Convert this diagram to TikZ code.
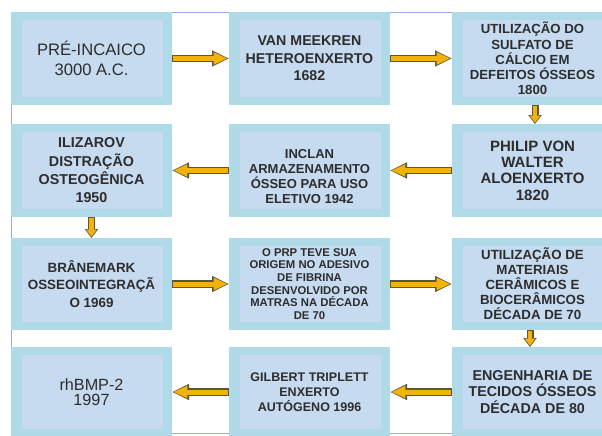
\documentclass[tikz,border=0pt]{standalone}
\usepackage{fontspec}
\setmainfont{Liberation Sans}
\usetikzlibrary{arrows.meta}
\definecolor{boxout}{RGB}{176,218,232}
\definecolor{boxin}{RGB}{198,218,240}
\definecolor{frameblue}{RGB}{150,172,222}
\definecolor{arrowfill}{RGB}{242,178,8}
\definecolor{arrowedge}{RGB}{95,85,60}
\definecolor{txt}{RGB}{45,45,45}
\tikzset{
  tbox/.style={fill=boxout, inner sep=0pt, outer sep=0pt, minimum width=161pt,
    minimum height=93pt, align=center, text=txt,
    path picture={\fill[boxin] ([shift={(11pt,-8pt)}]path picture bounding box.north west)
       rectangle ([shift={(-9pt,8pt)}]path picture bounding box.south east);}},
  hout/.style={draw=arrowedge, line width=7.5pt, -{Triangle[length=17pt,width=15pt]}},
  hin/.style={draw=arrowfill, line width=5pt, -{Triangle[length=14pt,width=11.5pt]}, shorten >=1.4pt, shorten <=0.6pt},
  vout/.style={draw=arrowedge, line width=7pt, -{Triangle[length=9pt,width=13pt]}},
  vin/.style={draw=arrowfill, line width=4.6pt, -{Triangle[length=7pt,width=10pt]}, shorten >=1.3pt, shorten <=0.6pt},
}
\newcommand{\harr}[2]{\draw[hout] (#1) -- (#2); \draw[hin] (#1) -- (#2);}
\newcommand{\varr}[2]{\draw[vout] (#1) -- (#2); \draw[vin] (#1) -- (#2);}
\begin{document}
\begin{tikzpicture}[x=1pt,y=-1pt]
\clip (0,0) rectangle (602,436);
\useasboundingbox (0,0) rectangle (602,436);
\fill[white] (0,0) rectangle (602,436);
\draw[frameblue, line width=0.8pt] (11,12) rectangle (610,433);
% row 1
\node[tbox, font=\fontsize{16.6}{20}\selectfont] (a1) at (91.5,58.5) {PRÉ-INCAICO\\3000 A.C.};
\node[tbox, font=\bfseries\fontsize{14.2}{17.5}\selectfont] (a2) at (309.5,58.5) {VAN MEEKREN\\HETEROENXERTO\\1682};
\node[tbox, font=\bfseries\fontsize{13.2}{15.2}\selectfont] (a3) at (532.5,58.5) {UTILIZAÇÃO DO\\SULFATO DE\\CÁLCIO EM\\DEFEITOS ÓSSEOS\\1800};
% row 2
\node[tbox, font=\bfseries\fontsize{14.3}{18.3}\selectfont] (b1) at (91.5,170.5) {ILIZAROV\\DISTRAÇÃO\\OSTEOGÊNICA\\1950};
\node[tbox, font=\bfseries\fontsize{13}{15}\selectfont] (b2) at (309.5,170.5) {\rule{0pt}{21pt}INCLAN\\ARMAZENAMENTO\\ÓSSEO PARA USO\\ELETIVO 1942};
\node[tbox, font=\bfseries\fontsize{15}{16.4}\selectfont] (b3) at (532.5,170.5) {PHILIP VON\\WALTER\\ALOENXERTO\\1820};
% row 3
\node[tbox, minimum height=92pt, font=\bfseries\fontsize{13.4}{17.5}\selectfont] (c1) at (91.5,284) {BRÂNEMARK\\OSSEOINTEGRAÇÃ\\O 1969};
\node[tbox, minimum height=92pt, font=\bfseries\fontsize{11.3}{12.7}\selectfont] (c2) at (309.5,284) {O PRP TEVE SUA\\ORIGEM NO ADESIVO\\DE FIBRINA\\DESENVOLVIDO POR\\MATRAS NA DÉCADA\\DE 70};
\node[tbox, minimum height=92pt, font=\bfseries\fontsize{13.3}{15}\selectfont] (c3) at (532.5,284) {UTILIZAÇÃO DE\\MATERIAIS\\CERÂMICOS E\\BIOCERÂMICOS\\DÉCADA DE 70};
% row 4
\node[tbox, minimum height=90pt, font=\fontsize{16.2}{15.2}\selectfont] (d1) at (91.5,392) {rhBMP-2\\1997};
\node[tbox, minimum height=90pt, font=\bfseries\fontsize{12.5}{15}\selectfont] (d2) at (309.5,392) {GILBERT TRIPLETT\\ENXERTO\\AUTÓGENO 1996};
\node[tbox, minimum height=90pt, font=\bfseries\fontsize{14.3}{16.7}\selectfont] (d3) at (532.5,392) {ENGENHARIA DE\\TECIDOS ÓSSEOS\\DÉCADA DE 80};
% arrows
\harr{a1.east}{a2.west}
\harr{a2.east}{a3.west}
\varr{[xshift=2.5pt]a3.south}{[xshift=2.5pt]b3.north}
\harr{b3.west}{b2.east}
\harr{b2.west}{b1.east}
\varr{b1.south}{c1.north}
\harr{c1.east}{c2.west}
\harr{c2.east}{c3.west}
\varr{[xshift=-2.5pt]c3.south}{[xshift=-2.5pt]d3.north}
\harr{d3.west}{d2.east}
\harr{d2.west}{d1.east}
\end{tikzpicture}
\end{document}
